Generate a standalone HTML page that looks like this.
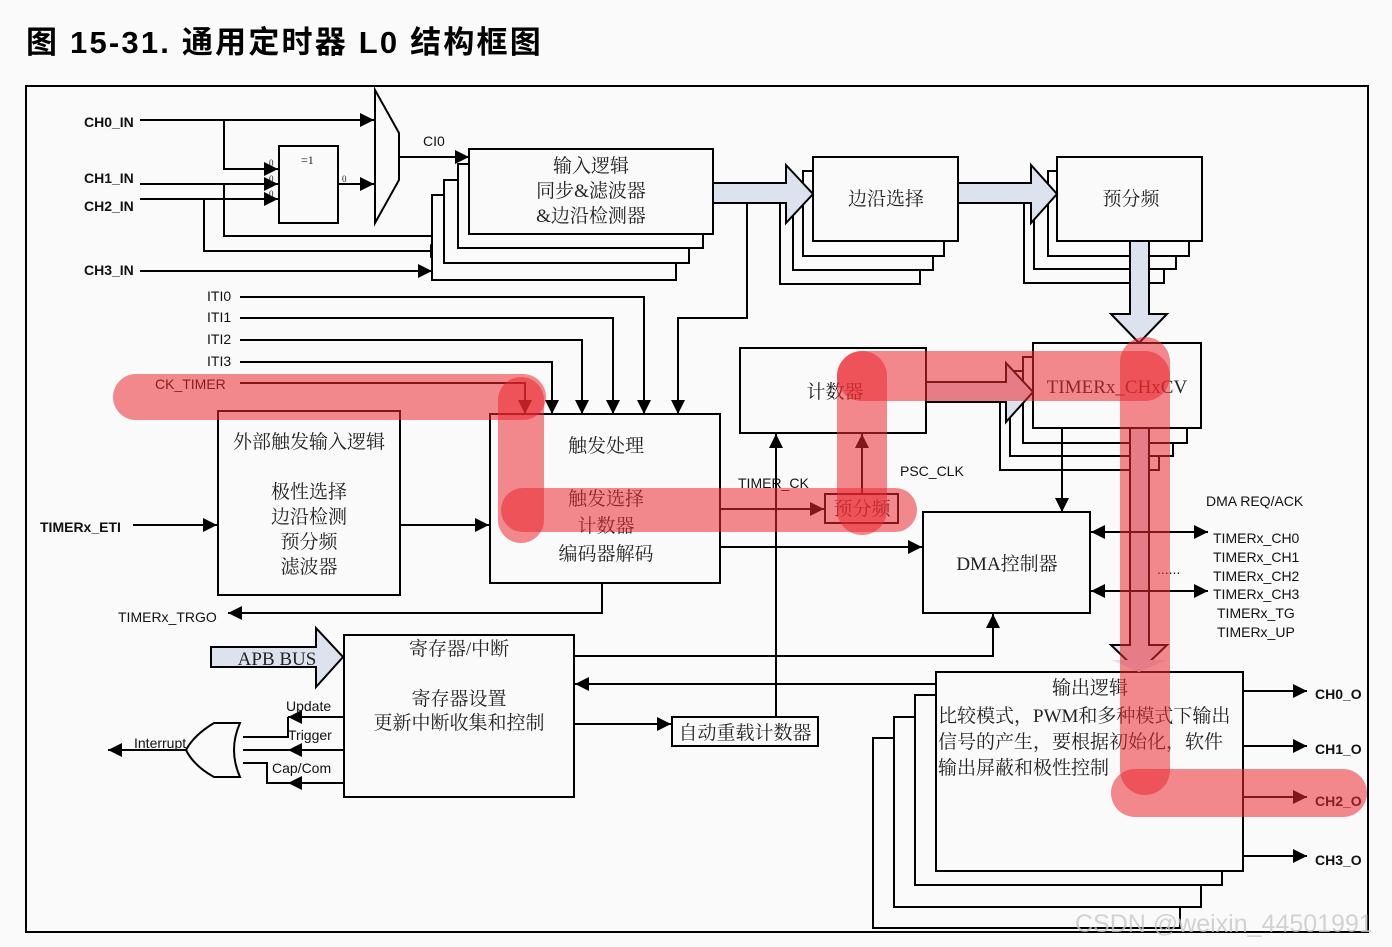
<!DOCTYPE html>
<html><head><meta charset="utf-8"><style>
html,body{margin:0;padding:0;background:#fafafa;}
svg{display:block}
.s{font-family:"Liberation Serif","Noto Serif CJK SC",serif;fill:#222}
.a{font-family:"Liberation Sans","Noto Sans CJK SC",sans-serif;fill:#111}
</style></head><body>
<svg width="1392" height="947" viewBox="0 0 1392 947" xmlns="http://www.w3.org/2000/svg">
<defs>
<marker id="m" viewBox="0 0 10 10" refX="10" refY="5" markerWidth="10" markerHeight="10" markerUnits="userSpaceOnUse" orient="auto"><path d="M0,0L10,5L0,10z" fill="#000"/></marker>
<marker id="M" viewBox="0 0 10 10" refX="10" refY="5" markerWidth="16" markerHeight="14" markerUnits="userSpaceOnUse" orient="auto"><path d="M0,0L10,5L0,10z" fill="#000"/></marker>
</defs>
<rect width="1392" height="947" fill="#fafafa"/>
<text x="26" y="53" font-family="Liberation Sans,Noto Sans CJK SC,sans-serif" font-weight="bold" font-size="31" letter-spacing="2.2" fill="#000">图 15-31. 通用定时器 L0 结构框图</text>
<rect x="26" y="86" width="1342" height="846" fill="none" stroke="#000" stroke-width="2"/>

<g stroke="#000" stroke-width="2" fill="none">
<path d="M140 120H374" marker-end="url(#M)"/>
<path d="M224 120V169H278" marker-end="url(#M)"/>
<path d="M140 184H278" marker-end="url(#M)"/>
<path d="M140 199H278" marker-end="url(#M)"/>
<path d="M224 184V236H458" marker-end="url(#M)"/>
<path d="M204 199V251H444" marker-end="url(#M)"/>
<path d="M140 271H432" marker-end="url(#M)"/>
<rect x="279" y="146" width="59" height="77" fill="#fafafa"/>
<path d="M338 184H374" marker-end="url(#M)"/>
<path d="M375 90L399 133V180L375 223Z" fill="#fafafa"/>
<path d="M399 157H469" marker-end="url(#M)"/>
<rect x="432" y="195" width="244" height="85" fill="#fafafa"/>
<rect x="444" y="180" width="245" height="83" fill="#fafafa"/>
<rect x="458" y="164" width="245" height="84" fill="#fafafa"/>
<rect x="469" y="149" width="244" height="85" fill="#fafafa"/>
<path d="M240 297H644V414" marker-end="url(#M)"/>
<path d="M240 318H613V414" marker-end="url(#M)"/>
<path d="M240 340H582V414" marker-end="url(#M)"/>
<path d="M240 362H552V414" marker-end="url(#M)"/>
<path d="M240 383H525V414" marker-end="url(#M)"/>
<path d="M747 203V318H678V414" marker-end="url(#M)"/>
<rect x="780" y="199" width="140" height="85" fill="#fafafa"/>
<rect x="793" y="185" width="140" height="85" fill="#fafafa"/>
<rect x="803" y="171" width="141" height="85" fill="#fafafa"/>
<rect x="813" y="157" width="145" height="84" fill="#fafafa"/>
<rect x="1024" y="199" width="140" height="84" fill="#fafafa"/>
<rect x="1034" y="185" width="142" height="84" fill="#fafafa"/>
<rect x="1048" y="171" width="141" height="85" fill="#fafafa"/>
<rect x="1057" y="157" width="145" height="84" fill="#fafafa"/>
<path d="M713 183H786V165L813 194L786 223V203H713Z" fill="#dde3ee"/>
<path d="M958 183H1031V165L1057 194L1031 223V203H958Z" fill="#dde3ee"/>
<path d="M1130 241V314H1111L1139 343L1167 314H1149V241Z" fill="#dde3ee"/>
<rect x="1000" y="385" width="159" height="85" fill="#fafafa"/>
<rect x="1010" y="371" width="163" height="85" fill="#fafafa"/>
<rect x="1023" y="357" width="164" height="86" fill="#fafafa"/>
<rect x="1033" y="343" width="168" height="85" fill="#fafafa"/>
<rect x="740" y="348" width="186" height="85" fill="#fafafa"/>
<path d="M926 382H1006V363L1033 392L1006 422V402H926Z" fill="#dde3ee"/>
<path d="M1062 428V512" marker-end="url(#M)"/>
<path d="M1130 428V645H1111L1139 672L1167 645H1149V428Z" fill="#dde3ee"/>
<rect x="218" y="411" width="182" height="184" fill="#fafafa"/>
<rect x="490" y="414" width="230" height="169" fill="#fafafa"/>
<path d="M133 525H217" marker-end="url(#M)"/>
<path d="M400 525H489" marker-end="url(#M)"/>
<path d="M602 583V613H228" marker-end="url(#M)"/>
<path d="M720 509H824" marker-end="url(#M)"/>
<rect x="825" y="494" width="73" height="29" fill="#fafafa"/>
<path d="M862 494V434" marker-end="url(#M)"/>
<path d="M776 717V434" marker-end="url(#M)"/>
<path d="M720 547H922" marker-end="url(#M)"/>
<rect x="923" y="512" width="167" height="101" fill="#fafafa"/>
<path d="M1140 532H1091" marker-end="url(#M)"/><path d="M1140 532H1208" marker-end="url(#M)"/>
<path d="M1140 591H1091" marker-end="url(#M)"/><path d="M1140 591H1208" marker-end="url(#M)"/>
<path d="M574 656H993V614" marker-end="url(#M)"/>
<path d="M936 684H575" marker-end="url(#M)"/>
<rect x="344" y="635" width="230" height="162" fill="#fafafa"/>
<path d="M211 647H316V628L343 657L316 687V667H211Z" fill="#dde3ee"/>
<path d="M574 724H671" marker-end="url(#M)"/>
<rect x="672" y="717" width="146" height="29" fill="#fafafa"/>
<path d="M344 717H288" marker-end="url(#M)"/><path d="M288 717V737H243"/>
<path d="M344 750H288" marker-end="url(#M)"/><path d="M288 750H243"/>
<path d="M344 783H288" marker-end="url(#M)"/><path d="M288 783H267V763H243"/>
<path d="M240 723H214Q194 735 186 750Q194 766 214 777H240Q228 750 240 723Z" fill="#fafafa"/>
<path d="M186 750H108" marker-end="url(#M)"/>
<rect x="873" y="738" width="307" height="190" fill="#fafafa"/>
<rect x="894" y="717" width="307" height="190" fill="#fafafa"/>
<rect x="915" y="695" width="307" height="190" fill="#fafafa"/>
<rect x="936" y="672" width="307" height="199" fill="#fafafa"/>
<path d="M1130 650V660H1111L1139 672L1167 660H1149V650Z" fill="#dde3ee" stroke="none"/>
<path d="M1243 691H1307" marker-end="url(#M)"/>
<path d="M1243 746H1307" marker-end="url(#M)"/>
<path d="M1243 797H1307" marker-end="url(#M)"/>
<path d="M1243 856H1307" marker-end="url(#M)"/>
</g>

<g class="a" font-weight="bold" font-size="14">
<text x="84" y="127">CH0_IN</text><text x="84" y="183">CH1_IN</text><text x="84" y="211">CH2_IN</text><text x="84" y="275">CH3_IN</text>
<text x="40" y="532">TIMERx_ETI</text>
<text x="1315" y="699">CH0_O</text><text x="1315" y="754">CH1_O</text><text x="1315" y="806">CH2_O</text><text x="1315" y="865">CH3_O</text>
</g>
<g class="a" font-size="14">
<text x="423" y="146">CI0</text>
<text x="207" y="301">ITI0</text><text x="207" y="322">ITI1</text><text x="207" y="344">ITI2</text><text x="207" y="366">ITI3</text>
<text x="155" y="389">CK_TIMER</text>
<text x="118" y="622">TIMERx_TRGO</text>
<text x="738" y="488">TIMER_CK</text><text x="900" y="476">PSC_CLK</text>
<text x="1206" y="506">DMA REQ/ACK</text>
<text x="1213" y="543">TIMERx_CH0</text><text x="1213" y="562">TIMERx_CH1</text><text x="1213" y="581">TIMERx_CH2</text><text x="1213" y="599">TIMERx_CH3</text><text x="1217" y="618">TIMERx_TG</text><text x="1217" y="637">TIMERx_UP</text>
<text x="1157" y="574">......</text>
<text x="286" y="711">Update</text><text x="288" y="740">Trigger</text><text x="272" y="773">Cap/Com</text><text x="134" y="748">Interrupt</text>
</g>
<g class="s" font-size="9"><text x="269" y="166">0</text><text x="269" y="182">0</text><text x="269" y="197">0</text><text x="342" y="182">0</text></g>
<text class="s" x="301" y="164" font-size="12">=1</text>
<g class="s" font-size="19" text-anchor="middle">
<text x="591" y="172">输入逻辑</text><text x="591" y="197">同步&amp;滤波器</text><text x="591" y="222">&amp;边沿检测器</text>
<text x="886" y="205">边沿选择</text><text x="1131" y="205">预分频</text>
<text x="835" y="398">计数器</text><text x="1117" y="393">TIMERx_CHxCV</text>
<text x="309" y="448">外部触发输入逻辑</text><text x="309" y="498">极性选择</text><text x="309" y="523">边沿检测</text><text x="309" y="548">预分频</text><text x="309" y="573">滤波器</text>
<text x="606" y="452">触发处理</text><text x="606" y="505">触发选择</text><text x="606" y="532">计数器</text><text x="606" y="560">编码器解码</text>
<text x="862" y="515">预分频</text>
<text x="1007" y="570">DMA控制器</text>
<text x="459" y="655">寄存器/中断</text><text x="459" y="705">寄存器设置</text><text x="459" y="729">更新中断收集和控制</text>
<text x="745" y="739">自动重载计数器</text>
<text x="1090" y="694">输出逻辑</text>
<text x="277" y="665">APB BUS</text>
</g>
<g class="s" font-size="19"><text x="938" y="722">比较模式，PWM和多种模式下输出</text><text x="938" y="748">信号的产生，要根据初始化，软件</text><text x="938" y="774">输出屏蔽和极性控制</text></g>

<g stroke="rgb(235,40,50)" stroke-opacity="0.55" stroke-linecap="round" fill="none">
<path d="M136 397H523" stroke-width="46"/>
<path d="M521 400V520" stroke-width="46"/>
<path d="M523 510H895" stroke-width="44"/>
<path d="M862 376V510" stroke-width="50"/>
<path d="M862 376H1145" stroke-width="50"/>
<path d="M1145 362V770" stroke-width="50"/>
<path d="M1135 793H1343" stroke-width="48"/>
</g>
<text x="1075" y="932" font-family="Liberation Sans,sans-serif" font-size="25" fill="#c8c8c8" fill-opacity="0.8">CSDN @weixin_44501991</text>
</svg>
</body></html>
